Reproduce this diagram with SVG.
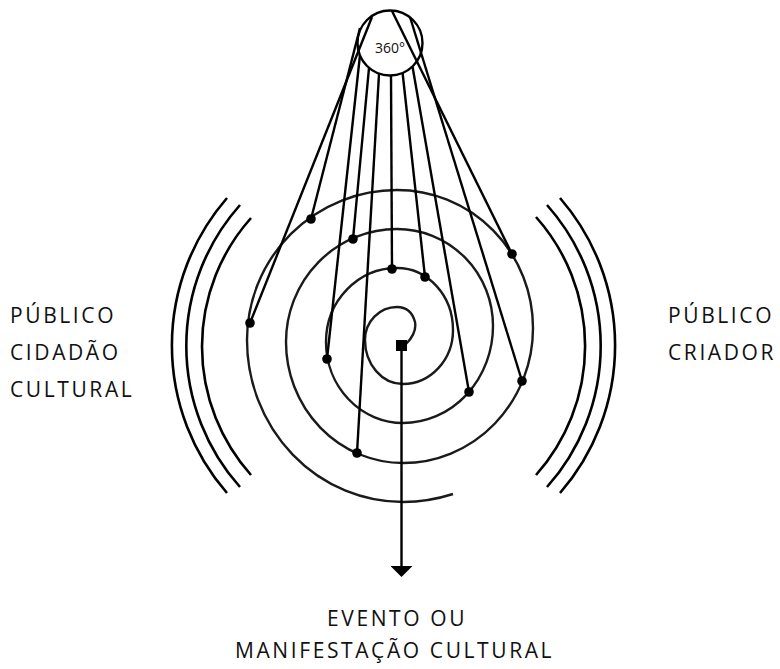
<svg xmlns="http://www.w3.org/2000/svg" width="780" height="669" viewBox="0 0 780 669">
<style>
.ln{stroke:#000;stroke-width:2.4;fill:none;stroke-linecap:butt}
.sp{stroke:#1a1a1a;stroke-width:2.4;fill:none}
.arc{stroke:#000;stroke-width:2.6;fill:none}
.dot{fill:#000}
.lbl{font-family:"Open Sans","Noto Sans",sans-serif;font-size:21px;letter-spacing:2.6px;fill:#111}
.small{font-family:"Open Sans","Noto Sans",sans-serif;font-size:14px;fill:#111}
</style>
<defs>
<marker id="arrow" markerUnits="userSpaceOnUse" markerWidth="12" markerHeight="22" viewBox="0 0 12 22" refX="0" refY="11" orient="auto">
<path d="M0,0 L11,11 L0,22 Z" fill="#000"/>
</marker>
</defs>
<rect width="780" height="669" fill="#fff"/>

<g id="left-arcs">
<path class="arc" d="M 227 198 A 225 225 0 0 0 227 493"/>
<path class="arc" d="M 240 205 A 212 212 0 0 0 240 487"/>
<path class="arc" d="M 251 218 A 193 193 0 0 0 251 475"/>
</g>
<g id="right-arcs">
<path class="arc" d="M 536 217 A 194 194 0 0 1 536 475"/>
<path class="arc" d="M 547 205 A 212 212 0 0 1 547 487"/>
<path class="arc" d="M 560 198 A 225 225 0 0 1 560 493"/>
</g>

<g id="spiral">
<path class="sp" d="M 406 344 Q 417 333 415 322 Q 411 307 397 307 A 32 33 0 0 0 365 340 A 38 44 0 0 0 403 384 A 50 54 0 0 0 453 330 A 56 62 0 0 0 397 268 A 71 74 0 0 0 326 342 A 77 81 0 0 0 403 423 A 90 97 0 0 0 493 326 A 96 97 0 0 0 397 229 A 111 113 0 0 0 286 342 A 117 121 0 0 0 403 463 A 130 135 0 0 0 533 328 A 136 138 0 0 0 397 190 A 150 150 0 0 0 247 340 A 156 162 0 0 0 403 502 A 170 175 0 0 0 453 494"/>
<rect x="396" y="340" width="11" height="11" fill="#000"/>
</g>

<g id="view-360">
<circle cx="390" cy="43" r="32.5" fill="none" stroke="#000" stroke-width="2.4"/>
<text class="small" x="375" y="53">360°</text>
</g>

<g id="connectors">
<line class="ln" x1="372" y1="17" x2="250" y2="323"/>
<line class="ln" x1="360" y1="28" x2="311" y2="219"/>
<line class="ln" x1="360" y1="55" x2="327" y2="359"/>
<line class="ln" x1="369" y1="68" x2="353" y2="239"/>
<line class="ln" x1="379" y1="74" x2="357" y2="453"/>
<line class="ln" x1="391" y1="75.5" x2="392" y2="269"/>
<line class="ln" x1="402.6" y1="73" x2="425" y2="277"/>
<line class="ln" x1="412.5" y1="66.5" x2="469" y2="392"/>
<line class="ln" x1="410" y1="17" x2="522" y2="381"/>
<line class="ln" x1="392" y1="11" x2="512" y2="254"/>
<line class="ln" x1="401.5" y1="351" x2="401.5" y2="566" marker-end="url(#arrow)"/>
</g>

<g id="dots">
<circle class="dot" cx="311" cy="219" r="4.8"/>
<circle class="dot" cx="250" cy="323" r="4.8"/>
<circle class="dot" cx="353" cy="239" r="4.8"/>
<circle class="dot" cx="392" cy="269" r="4.8"/>
<circle class="dot" cx="425" cy="277" r="4.8"/>
<circle class="dot" cx="512" cy="254" r="4.8"/>
<circle class="dot" cx="327" cy="359" r="4.8"/>
<circle class="dot" cx="469" cy="392" r="4.8"/>
<circle class="dot" cx="522" cy="381" r="4.8"/>
<circle class="dot" cx="357" cy="453" r="4.8"/>
</g>

<g id="publico-cidadao">
<text class="lbl" x="10" y="323">PÚBLICO</text>
<text class="lbl" x="10" y="360">CIDADÃO</text>
<text class="lbl" x="10" y="397">CULTURAL</text>
</g>
<g id="publico-criador">
<text class="lbl" x="668" y="323">PÚBLICO</text>
<text class="lbl" x="668" y="360">CRIADOR</text>
</g>
<g id="evento">
<text class="lbl" x="327" y="626">EVENTO OU</text>
<text class="lbl" x="235" y="658">MANIFESTAÇÃO CULTURAL</text>
</g>
</svg>
